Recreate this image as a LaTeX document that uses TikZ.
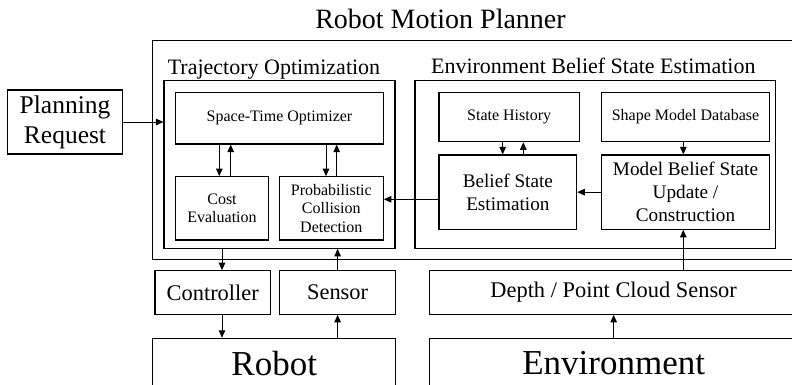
\documentclass[tikz,border=0pt]{standalone}
\usepackage{fontspec}
\setmainfont{Liberation Serif}
\usetikzlibrary{arrows.meta,calc}

\tikzset{
  box/.style={draw, rectangle, line width=1.1pt, inner sep=0pt, align=center},
  sz/.style 2 args={minimum width=#1pt, minimum height=#2pt},
  arr/.style={line width=1pt, -{Triangle[length=7.5pt,width=6.5pt]}},
  ftitle/.style={font=\fontsize{28}{33}\selectfont},
  fgroup/.style={font=\fontsize{22}{26}\selectfont},
  freq/.style={font=\fontsize{25.5}{30}\selectfont},
  fsmall/.style={font=\fontsize{16}{18.6}\selectfont},
  fmid/.style={font=\fontsize{19.2}{23}\selectfont},
  fio/.style={font=\fontsize{22.4}{27}\selectfont},
  fbig/.style={font=\fontsize{35}{40}\selectfont},
}

\begin{document}
\begin{tikzpicture}[x=1pt, y=-1pt]
  \useasboundingbox (0,0) rectangle (792,384);
  \clip (0,0) rectangle (792,384);

  % headings
  \node[ftitle, anchor=base] (title) at (440.5,28.3) {Robot Motion Planner};
  \node[fgroup, anchor=base] (trajlbl) at (274,74) {Trajectory Optimization};
  \node[fgroup, anchor=base] (envlbl) at (593.3,73) {Environment Belief State Estimation};

  % enclosing frames
  \node[box, sz={647.3}{218.6}] (planner) at (476.35,150) {};
  \node[box, sz={231}{167.6}] (traj) at (279.5,164.5) {};
  \node[box, sz={360.5}{167.6}] (env) at (595.25,164.5) {};

  % input
  \node[box, freq, sz={115.4}{64}] (PR) at (65,122) {Planning\\Request};

  % trajectory optimization
  \node[box, fsmall, sz={207.6}{51.7}] (ST) at (279.5,118.15) {Space-Time Optimizer};
  \node[box, fsmall, sz={92.6}{63.3}] (Cost) at (222,208.35) {Cost\\Evaluation};
  \node[box, fsmall, sz={104}{63.3}] (Prob) at (331.3,208.35) {Probabilistic\\Collision\\Detection};

  % environment belief state estimation
  \node[box, fsmall, sz={140.3}{49.4}] (SH) at (509.15,117) {State History};
  \node[box, fsmall, sz={167.6}{49.4}] (SMD) at (685.5,117) {Shape Model Database};
  \node[box, fmid, sz={137.7}{74.3}] (BSE) at (507.85,192.15) {Belief State\\Estimation};
  \node[box, fmid, sz={167.6}{74.3}] (MBSU) at (685.5,192.15) {Model Belief State\\Update /\\Construction};

  % hardware interfaces
  \node[box, fio, sz={115.5}{43.6}] (Ctrl) at (212.75,292.5) {Controller};
  \node[box, fio, sz={116.2}{43.6}] (Sensor) at (337.6,292.5) {Sensor};
  \node[box, fio, sz={368.7}{43.6}] (Depth) at (613.65,292.5) {Depth / Point Cloud Sensor};
  \node[box, fbig, sz={243}{50}] (Robot) at (274.2,363.3) {Robot};
  \node[box, fbig, sz={368.7}{50}] (world) at (613.65,363.3) {Environment};

  % connectors
  \draw[arr] (PR.east) -- (PR.east -| traj.west);

  \coordinate (cd) at ($(Cost.north)+(-2.7,0)$);
  \coordinate (cu) at ($(Cost.north)+(8.7,0)$);
  \draw[arr] (cd |- ST.south) -- (cd);
  \draw[arr] (cu) -- (cu |- ST.south);

  \coordinate (pd) at ($(Prob.north)+(-5.3,0)$);
  \coordinate (pu) at ($(Prob.north)+(5.4,0)$);
  \draw[arr] (pd |- ST.south) -- (pd);
  \draw[arr] (pu) -- (pu |- ST.south);

  \coordinate (hd) at ($(SH.south)+(-6.45,0)$);
  \coordinate (hu) at ($(SH.south)+(14.15,0)$);
  \draw[arr] (hd) -- (hd |- BSE.north);
  \draw[arr] (hu |- BSE.north) -- (hu);

  \coordinate (dm) at ($(MBSU.south)+(-2.2,0)$);
  \draw[arr] (dm |- SMD.south) -- (dm |- MBSU.north);
  \draw[arr] (MBSU.west) -- (BSE.east);

  \coordinate (bp) at ($(BSE.west)+(0,7.15)$);
  \draw[arr] (bp) -- (bp -| Prob.east);

  \draw[arr] (traj.south -| Cost.south) -- (Ctrl.north -| Cost.south);
  \draw[arr] (Ctrl.south -| Cost.south) -- (Robot.north -| Cost.south);
  \draw[arr] (Sensor.north) -- (Sensor.north |- traj.south);
  \draw[arr] (Robot.north -| Sensor.south) -- (Sensor.south);
  \draw[arr] (dm |- Depth.north) -- (dm);
  \draw[arr] (world.north -| Depth.south) -- (Depth.south);
\end{tikzpicture}
\end{document}
